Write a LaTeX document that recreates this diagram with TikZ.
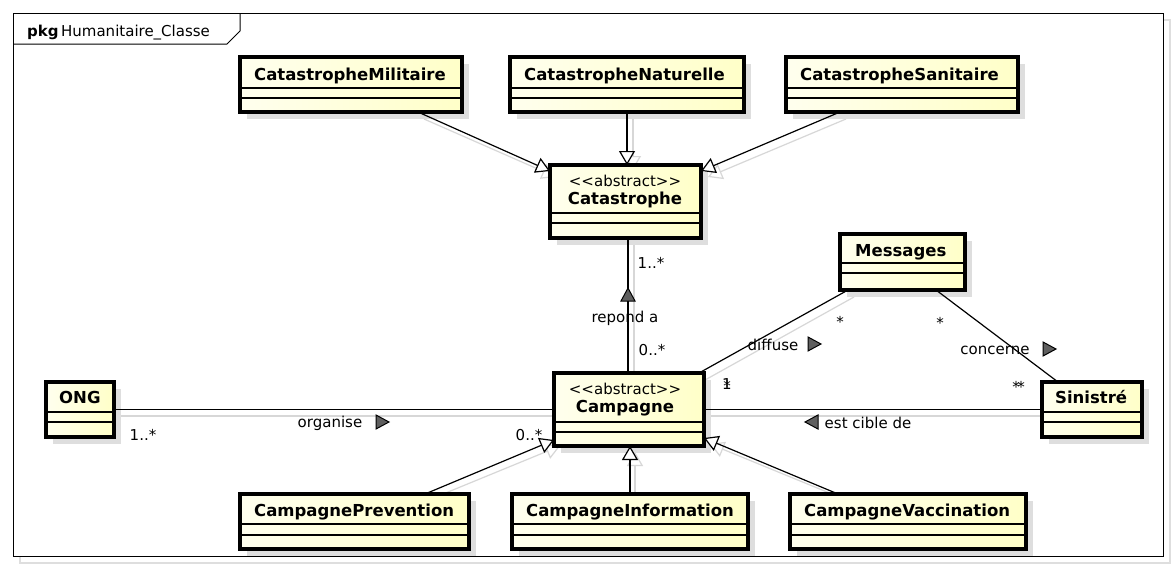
\documentclass[tikz,border=0pt]{standalone}
\usepackage{fontspec}
\setmainfont{DejaVu Sans}
\usetikzlibrary{arrows.meta,calc}
\definecolor{shd}{RGB}{222,222,222}
\definecolor{shl}{RGB}{215,215,215}
\definecolor{clsA}{RGB}{255,255,238}
\definecolor{clsB}{RGB}{255,255,200}
\definecolor{dirc}{RGB}{95,95,95}
\tikzset{
  clsbox/.style={draw=black, line width=3.2pt, left color=clsA, right color=clsB, anchor=north west, inner sep=0pt, outer sep=0pt},
  sepline/.style={line width=1.4pt},
  ttl/.style={font=\fontsize{16.5}{19}\selectfont\bfseries, inner sep=0pt, anchor=base west},
  stereo/.style={font=\fontsize{15}{18}\selectfont, inner sep=0pt, anchor=base},
  lbl/.style={font=\fontsize{15}{18}\selectfont, inner sep=0pt},
  conn/.style={line width=1.2pt},
  gen/.style={line width=1.2pt, -{Triangle[length=14pt,width=16pt,fill=white,line width=1.2pt]}},
  gshadow/.style={line width=1.2pt, draw=shl, -{Triangle[length=14pt,width=16pt,fill=white,line width=1.2pt]}},
  cshadow/.style={line width=1.2pt, draw=shl},
  dirtri/.style={fill=dirc, draw=black, line width=1pt, line join=miter},
}
% name, x, y, w, h, sep1, sep2
\newcommand\umlclass[7]{%
  \fill[shd] (#2+7,#3+7) rectangle ++(#4,#5);
  \node[clsbox, minimum width=#4pt, minimum height=#5pt] (#1) at (#2,#3) {};
  \draw[sepline] ([yshift=-#6pt]#1.north west) -- ([yshift=-#6pt]#1.north east);
  \draw[sepline] ([yshift=-#7pt]#1.north west) -- ([yshift=-#7pt]#1.north east);
}
\newcommand\dirmark[3]{% x, y, rotation
  \filldraw[dirtri, shift={(#1,#2)}, rotate=#3] (-6,-7) -- (7,0) -- (-6,7) -- cycle;
}
\begin{document}
\begin{tikzpicture}[x=1pt, y=-1pt]
\useasboundingbox (0,0) rectangle (1176,570);
% frame
\draw[shd, line width=1.2pt] (20,20) rectangle (1170,563);
\draw[line width=1pt, fill=white] (13,13) rectangle (1163,556);
\draw[line width=1pt] (13,44) -- (227,44) -- (240,31) -- (240,13);
\node[lbl, anchor=base west] (pkg) at (27,36) {\textbf{pkg}\,Humanitaire\_Classe};

% connector shadows
\begin{scope}[shift={(6,6)}]
\draw[gshadow] (418,113) -- (550,171);
\draw[gshadow] (627,113) -- (627,164);
\draw[gshadow] (840,113) -- (702,171);
\draw[cshadow] (628,238) -- (628,374);
\draw[cshadow] (848,291) -- (699,374);
\draw[cshadow] (114,410) -- (554,410);
\draw[cshadow] (704,410) -- (1042,410);
\draw[gshadow] (425,493) -- (554,440);
\draw[gshadow] (629,493) -- (629,446);
\draw[gshadow] (838,493) -- (704,438);
\end{scope}

% classes
\umlclass{cm}{240}{57}{222}{55}{31}{41}
\umlclass{cn}{510}{57}{234}{55}{31}{41}
\umlclass{cs}{786}{57}{232}{55}{31}{41}
\umlclass{cat}{550}{165}{151}{73}{48}{58}
\umlclass{msg}{840}{234}{125}{56}{29}{39}
\umlclass{ong}{46}{382}{68}{55}{30}{40}
\umlclass{camp}{554}{373}{150}{73}{49}{59}
\umlclass{sin}{1042}{382}{100}{55}{30}{40}
\umlclass{cp}{240}{494}{229}{55}{30}{41}
\umlclass{ci}{512}{494}{236}{55}{30}{41}
\umlclass{cv}{790}{494}{236}{55}{30}{41}

% titles
\node[ttl] (tcm) at (254,80) {CatastropheMilitaire};
\node[ttl] (tcn) at (524,80) {CatastropheNaturelle};
\node[ttl] (tcs) at (800,80) {CatastropheSanitaire};
\node[stereo] (scat) at (625,186) {<{}<abstract>{}>};
\node[stereo, font=\fontsize{16.5}{19}\selectfont\bfseries] (tcat) at (625,204) {Catastrophe};
\node[ttl] (tmsg) at (855,256) {Messages};
\node[ttl] (tong) at (59,403) {ONG};
\node[stereo] (scamp) at (625,394) {<{}<abstract>{}>};
\node[stereo, font=\fontsize{16.5}{19}\selectfont\bfseries] (tcamp) at (625,412) {Campagne};
\node[ttl] (tsin) at (1055,403) {Sinistré};
\node[ttl] (tcp) at (254,516) {CampagnePrevention};
\node[ttl] (tci) at (526,516) {CampagneInformation};
\node[ttl] (tcv) at (804,516) {CampagneVaccination};

% generalizations
\draw[gen] ([xshift=178pt]cm.south west) -- ([yshift=-6pt]cat.north west);
\draw[gen] (cn.south) -- (cn.south |- cat.north);
\draw[gen] ([xshift=54pt]cs.south west) -- ([yshift=-6pt]cat.north east);
\draw[gen] ([xshift=185pt]cp.north west) -- ([yshift=6pt]camp.south west);
\draw[gen] (ci.north) -- (ci.north |- camp.south);
\draw[gen] ([xshift=48pt]cv.north west) -- ([yshift=8pt]camp.south east);

% associations
\draw[conn] ([xshift=-1pt]camp.north) -- ([xshift=-1pt]camp.north |- cat.south);
\draw[conn] ([xshift=8pt]msg.south west) -- ([xshift=-5pt]camp.north east);
\draw[conn] ([xshift=96pt]msg.south west) -- ([xshift=16pt]sin.north west);
\draw[conn] (ong.east) -- (ong.east -| camp.west);
\draw[conn] (camp.east) -- (camp.east -| sin.west);

% association labels
\node[lbl] (m1) at (651,263) {1..*};
\node[lbl] (a1) at (625,318) {repond a};
\dirmark{628}{295}{90}
\node[lbl] (m2) at (652,350) {0..*};
\node[lbl] (a2) at (773,345) {diffuse};
\dirmark{814}{344}{0}
\node[lbl] (m3) at (840,322) {*};
\node[lbl] (m4) at (727,384) {1};
\node[lbl] (m5) at (727,386) {*};
\node[lbl] (m6) at (940,323) {*};
\node[lbl] (a3) at (995,350) {concerne};
\dirmark{1049}{349}{0}
\node[lbl] (m7) at (1016,387) {*};
\node[lbl] (m8) at (1021,387) {*};
\node[lbl] (a4) at (868,423) {est cible de};
\dirmark{812}{422}{180}
\node[lbl] (m9) at (143,435) {1..*};
\node[lbl] (a5) at (330,423) {organise};
\dirmark{382}{422}{0}
\node[lbl] (m10) at (529,435) {0..*};
\end{tikzpicture}
\end{document}
